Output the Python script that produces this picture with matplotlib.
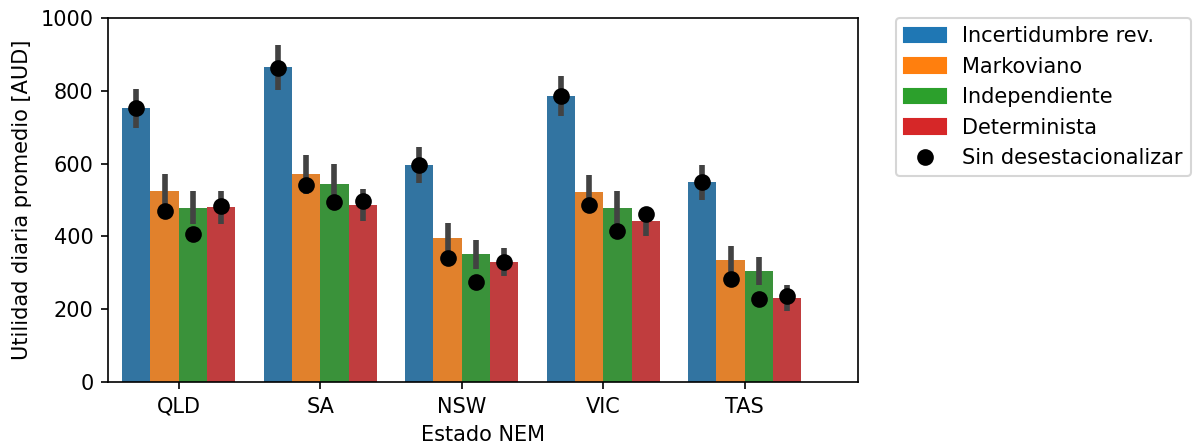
import matplotlib
matplotlib.use("Agg")
import matplotlib.pyplot as plt
import matplotlib.patches as mpatches
from matplotlib.lines import Line2D
import numpy as np

states = ["QLD", "SA", "NSW", "VIC", "TAS"]
methods = ["Incertidumbre rev.", "Markoviano", "Independiente", "Determinista"]

# bar means per method per state
incert = [752, 865, 596, 786, 549]
markov = [525, 571, 396, 522, 335]
indep = [478, 544, 352, 478, 305]
determ = [481, 486, 330, 442, 231]

# error bar lows / highs
incert_lo = [699, 803, 548, 731, 500]
incert_hi = [805, 926, 645, 841, 596]
markov_lo = [479, 516, 356, 475, 297]
markov_hi = [571, 624, 436, 569, 373]
indep_lo = [433, 489, 311, 431, 266]
indep_hi = [524, 599, 390, 525, 343]
determ_lo = [435, 441, 290, 402, 194]
determ_hi = [525, 531, 369, 482, 266]

# "Sin desestacionalizar" points
incert_raw = [752, 864, 596, 786, 549]
markov_raw = [469, 542, 341, 485, 282]
indep_raw = [407, 494, 274, 416, 229]
determ_raw = [484, 497, 330, 462, 237]

means = [incert, markov, indep, determ]
los = [incert_lo, markov_lo, indep_lo, determ_lo]
his = [incert_hi, markov_hi, indep_hi, determ_hi]
raws = [incert_raw, markov_raw, indep_raw, determ_raw]

bar_colors = ["#3274a1", "#e1812c", "#3a923a", "#c03d3e"]
leg_colors = ["#1f77b4", "#ff7f0e", "#2ca02c", "#d62728"]

dpi = 150
fig = plt.figure(figsize=(1197 / dpi, 448 / dpi), dpi=dpi)
ax = fig.add_axes([108 / 1197, 1 - 382 / 448, 750 / 1197, 364 / 448])

x = np.arange(len(states))
w = 0.2
for i in range(4):
    pos = x - 0.3 + i * w
    ax.bar(pos, means[i], width=w, color=bar_colors[i], zorder=2)
    ax.vlines(pos, los[i], his[i], color=(0.26, 0.26, 0.26), lw=2.7, zorder=3)
    ax.plot(pos, raws[i], 'o', color='black', ms=7, zorder=4)

ax.set_xlim(-0.5, 4.8)
ax.set_ylim(0, 1000)
ax.set_xticks(x)
ax.set_xticklabels(states)
ax.set_yticks([0, 200, 400, 600, 800, 1000])
ax.set_xlabel("Estado NEM")
ax.set_ylabel("Utilidad diaria promedio [AUD]")

handles = [mpatches.Patch(color=c, label=m) for c, m in zip(leg_colors, methods)]
handles.append(Line2D([], [], marker='o', color='black', ls='none', ms=7,
                      label="Sin desestacionalizar"))
ax.legend(handles=handles, bbox_to_anchor=(1.05, 1), loc='upper left',
          borderaxespad=0)

fig.savefig("out.png", dpi=dpi)
